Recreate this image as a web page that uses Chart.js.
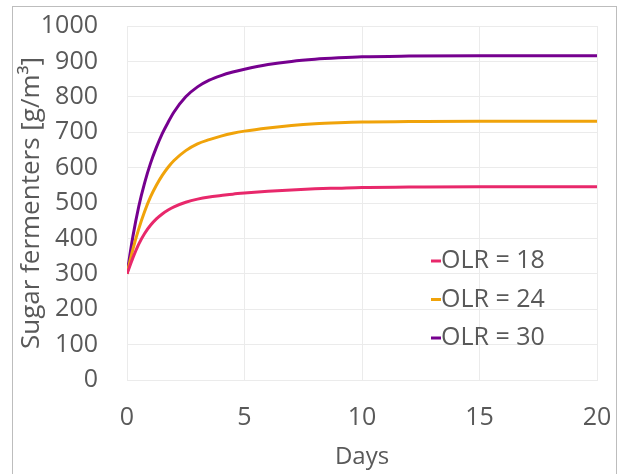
<!DOCTYPE html>
<html>
<head>
<meta charset="utf-8">
<script src="https://cdn.jsdelivr.net/npm/chart.js@4.4.0/dist/chart.umd.min.js"></script>
<style>
  html, body { margin: 0; padding: 0; background: #fff; }
  #wrap { position: relative; width: 624px; height: 474px; overflow: hidden; }
  #frame { position: absolute; left: 12px; top: 6px; width: 603px; height: 480px; border: 1px solid #bdbdbd; }
  #c { position: absolute; left: 0; top: 0; }
</style>
</head>
<body>
<div id="wrap">
  <div id="frame"></div>
  <canvas id="c" width="624" height="474"></canvas>
</div>
<script>
// days and sugar fermenter concentration
const days  = [0, 0.25, 0.5, 0.75, 1, 1.25, 1.5, 1.75, 2, 2.5, 3, 3.5, 4, 4.5, 5, 6, 7, 8, 9, 10, 12, 15, 20];
const olr18 = [300, 345, 384, 414, 437, 455, 469, 480, 489, 502, 511, 517, 521, 525, 528, 533, 537, 540, 542, 544, 545, 546, 546];
const olr24 = [300, 369, 427, 476, 517, 550, 578, 601, 620, 648, 667, 679, 689, 697, 703, 712, 719, 724, 727, 729, 730, 731, 731];
const olr30 = [300, 405, 490, 557, 612, 657, 696, 728, 757, 800, 828, 847, 860, 870, 878, 891, 900, 906, 910, 913, 915, 916, 916];
const seriesNames = ["OLR = 18", "OLR = 24", "OLR = 30"];
const seriesColors = ["#e8286b", "#f0a30a", "#76008f"];
const xTicks = [0, 5, 10, 15, 20];

const toPoints = vals => vals.map((v, i) => ({ x: days[i], y: v }));

const textColor = "#595959";
const gridColor = "#ebebeb";
const fontFamily = "'Open Sans', 'Noto Sans', sans-serif";

// legend drawn inside the plot area, like the original
const innerLegend = {
  id: "innerLegend",
  afterDraw(chart) {
    const ctx = chart.ctx;
    const area = chart.chartArea;
    const x0 = area.left + 304;
    let y = area.top + 235;
    ctx.save();
    ctx.font = "25px " + fontFamily;
    ctx.textBaseline = "middle";
    ctx.textAlign = "left";
    chart.data.datasets.forEach(ds => {
      ctx.strokeStyle = ds.borderColor;
      ctx.lineWidth = 3;
      ctx.beginPath();
      ctx.moveTo(x0, y);
      ctx.lineTo(x0 + 10, y);
      ctx.stroke();
      ctx.fillStyle = textColor;
      ctx.fillText(ds.label, x0 + 10, y);
      y += 38.5;
    });
    ctx.restore();
  }
};

const ctx = document.getElementById("c").getContext("2d");
new Chart(ctx, {
  type: "line",
  data: {
    datasets: [
      { label: seriesNames[0], data: toPoints(olr18), borderColor: seriesColors[0] },
      { label: seriesNames[1], data: toPoints(olr24), borderColor: seriesColors[1] },
      { label: seriesNames[2], data: toPoints(olr30), borderColor: seriesColors[2] }
    ]
  },
  options: {
    responsive: false,
    animation: false,
    layout: { padding: { top: 26, right: 27, left: 0, bottom: 0 } },
    elements: {
      point: { radius: 0 },
      line: { borderWidth: 3, cubicInterpolationMode: "monotone", fill: false }
    },
    plugins: {
      legend: { display: false },
      tooltip: { enabled: false }
    },
    scales: {
      x: {
        type: "linear",
        min: 0,
        max: 20,
        afterBuildTicks: axis => { axis.ticks = xTicks.map(v => ({ value: v })); },
        afterFit: axis => { axis.height = 94; axis.paddingLeft = 0; axis.paddingRight = 0; },
        grid: { color: gridColor, drawTicks: false },
        border: { color: gridColor },
        ticks: { color: textColor, font: { family: fontFamily, size: 25 }, padding: 23, maxRotation: 0 },
        title: { display: true, text: "Days", color: textColor, font: { family: fontFamily, size: 24 }, padding: { bottom: 2, top: 0 } }
      },
      y: {
        min: 0,
        max: 1000,
        afterFit: axis => { axis.width = 127; axis.paddingTop = 0; axis.paddingBottom = 0; },
        grid: { color: gridColor, drawTicks: false },
        border: { color: gridColor },
        ticks: { stepSize: 100, color: textColor, font: { family: fontFamily, size: 25 }, padding: 29, callback: v => String(v) },
        title: { display: true, text: "Sugar fermenters [g/m³]", color: textColor, font: { family: fontFamily, size: 26 }, padding: { top: 16, bottom: 0 } }
      }
    }
  },
  plugins: [innerLegend]
});
</script>
</body>
</html>
